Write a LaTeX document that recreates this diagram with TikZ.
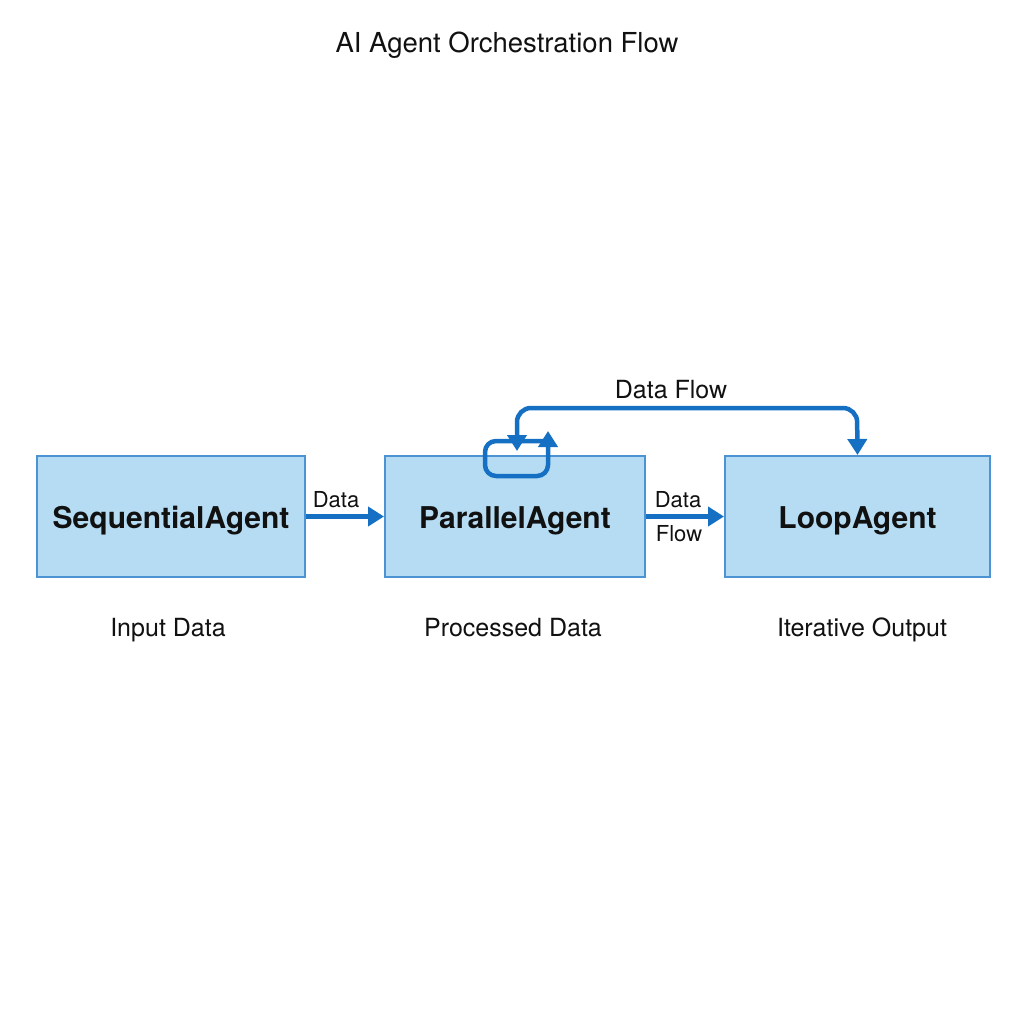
\documentclass[tikz,border=0pt]{standalone}
\usepackage{fontspec}
\setmainfont{TeX Gyre Heros}
\usetikzlibrary{arrows.meta}
\definecolor{boxfill}{HTML}{B5DCF3}
\definecolor{boxline}{HTML}{4C93D3}
\definecolor{arrowc}{HTML}{1570C4}
\definecolor{txt}{HTML}{111111}
\tikzset{
  agent/.style={draw=boxline, fill=boxfill, line width=2pt, minimum height=121pt, inner sep=0pt},
  agtext/.style={text=txt, font=\fontsize{30}{34}\selectfont\bfseries, inner sep=0pt, anchor=base},
  flow/.style={draw=arrowc, line width=4.5pt, -{Triangle[length=16pt,width=19pt]}},
  lbl/.style={text=txt, font=\fontsize{25}{29}\selectfont, inner sep=0pt},
  small/.style={text=txt, font=\fontsize{22}{26}\selectfont, inner sep=0pt}
}
\begin{document}
\begin{tikzpicture}[x=1pt,y=-1pt]
\useasboundingbox[fill=white] (0,0) rectangle (1024,1024);
\node[lbl, font=\fontsize{27.5}{31}\selectfont, anchor=base] (title) at (507,53) {AI Agent Orchestration Flow};
\node[agent, minimum width=268pt] (seq) at (171,516.5) {};
\node[agent, minimum width=260pt] (par) at (515,516.5) {};
\node[agent, minimum width=265pt] (loop) at (857.5,516.5) {};
\node[agtext] (seqt) at (171,528) {SequentialAgent};
\node[agtext] (part) at (515,528) {ParallelAgent};
\node[agtext] (loopt) at (857.5,528) {LoopAgent};
\node[lbl, anchor=base] (l1) at (168,636) {Input Data};
\node[lbl, anchor=base] (l2) at (513,636) {Processed Data};
\node[lbl, anchor=base] (l3) at (862,636) {Iterative Output};
\draw[flow] (seq.east) -- (par.west);
\draw[flow] (par.east) -- (loop.west);
\node[small, anchor=base] (d1) at (336,507) {Data};
\node[small, anchor=base] (d2) at (678,507) {Data};
\node[small, anchor=base] (d3) at (679,541) {Flow};
% self loop on ParallelAgent
\coordinate (ls) at (548,441);
\coordinate (le) at (548,431);
\draw[flow, rounded corners=11pt] (ls) -- (485,441) -- (485,476) -- (548,476) -- (le);
% big data flow connector
\draw[flow, {Triangle[length=16pt,width=19pt]}-{Triangle[length=16pt,width=19pt]}, rounded corners=14pt]
  (517,451) -- (517,408) -- (857,408) -- (loop.north);
\node[lbl, anchor=base] (df) at (671,398) {Data Flow};
\end{tikzpicture}
\end{document}
